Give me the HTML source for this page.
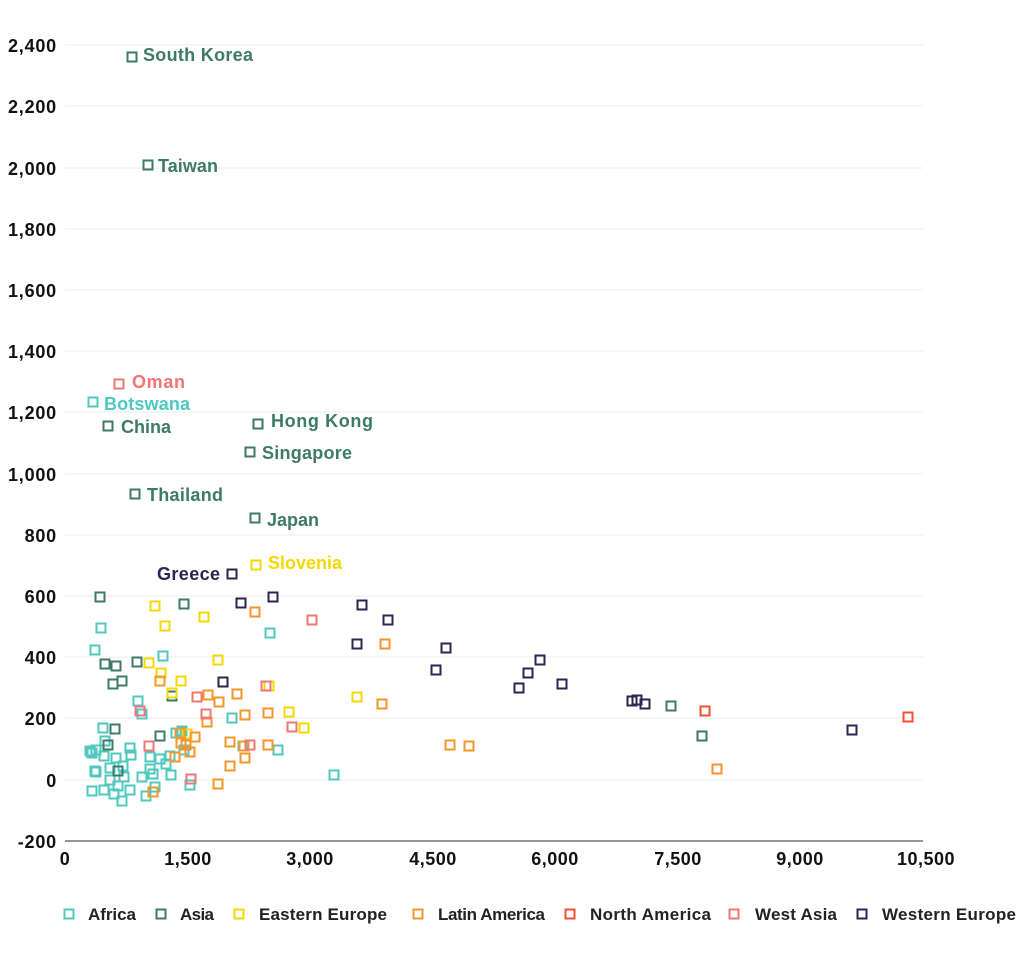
<!DOCTYPE html><html><head><meta charset="utf-8"><style>body{margin:0;background:#fff}svg{display:block}text{font-family:"Liberation Sans",sans-serif}</style></head><body>
<svg width="1024" height="953" xmlns="http://www.w3.org/2000/svg">
<g stroke="#ececec" stroke-width="1">
<line x1="65" x2="923" y1="45" y2="45"/><line x1="65" x2="923" y1="106" y2="106"/><line x1="65" x2="923" y1="168" y2="168"/><line x1="65" x2="923" y1="229" y2="229"/><line x1="65" x2="923" y1="290" y2="290"/><line x1="65" x2="923" y1="351" y2="351"/><line x1="65" x2="923" y1="412" y2="412"/><line x1="65" x2="923" y1="474" y2="474"/><line x1="65" x2="923" y1="535" y2="535"/><line x1="65" x2="923" y1="596" y2="596"/><line x1="65" x2="923" y1="657" y2="657"/><line x1="65" x2="923" y1="718" y2="718"/><line x1="65" x2="923" y1="780" y2="780"/>
</g>
<line x1="65" x2="923" y1="841" y2="841" stroke="#555" stroke-width="1.3"/>
<g font-size="18" font-weight="bold" fill="#111" text-anchor="end" letter-spacing="0.8">
<text x="57" y="52">2,400</text><text x="57" y="113">2,200</text><text x="57" y="175">2,000</text><text x="57" y="236">1,800</text><text x="57" y="297">1,600</text><text x="57" y="358">1,400</text><text x="57" y="419">1,200</text><text x="57" y="481">1,000</text><text x="57" y="542">800</text><text x="57" y="603">600</text><text x="57" y="664">400</text><text x="57" y="725">200</text><text x="57" y="787">0</text><text x="57" y="848">-200</text>
</g>
<g font-size="18" font-weight="bold" fill="#111" text-anchor="middle" letter-spacing="0.5">
<text x="65" y="865">0</text><text x="188" y="865">1,500</text><text x="310" y="865">3,000</text><text x="433" y="865">4,500</text><text x="555" y="865">6,000</text><text x="678" y="865">7,500</text><text x="800" y="865">9,000</text><text x="926" y="865">10,500</text>
</g>
<g fill="none" stroke-width="2">
<g stroke="#4fc9c0">
<rect x="88.5" y="397.5" width="9" height="9"/><rect x="96.5" y="623.5" width="9" height="9"/><rect x="90.5" y="645.5" width="9" height="9"/><rect x="158.5" y="651.5" width="9" height="9"/><rect x="265.5" y="628.5" width="9" height="9"/><rect x="133.5" y="696.5" width="9" height="9"/><rect x="137.5" y="709.5" width="9" height="9"/><rect x="125.5" y="743.5" width="9" height="9"/><rect x="227.5" y="713.5" width="9" height="9"/><rect x="171.5" y="728.5" width="9" height="9"/><rect x="177.5" y="726.5" width="9" height="9"/><rect x="98.5" y="723.5" width="9" height="9"/><rect x="100.5" y="736.5" width="9" height="9"/><rect x="91.5" y="745.5" width="9" height="9"/><rect x="87.5" y="748.5" width="9" height="9"/><rect x="99.5" y="751.5" width="9" height="9"/><rect x="111.5" y="753.5" width="9" height="9"/><rect x="85.5" y="746.5" width="9" height="9"/><rect x="105.5" y="763.5" width="9" height="9"/><rect x="118.5" y="761.5" width="9" height="9"/><rect x="119.5" y="772.5" width="9" height="9"/><rect x="126.5" y="750.5" width="9" height="9"/><rect x="145.5" y="752.5" width="9" height="9"/><rect x="155.5" y="754.5" width="9" height="9"/><rect x="165.5" y="751.5" width="9" height="9"/><rect x="179.5" y="745.5" width="9" height="9"/><rect x="161.5" y="759.5" width="9" height="9"/><rect x="145.5" y="764.5" width="9" height="9"/><rect x="150.5" y="782.5" width="9" height="9"/><rect x="137.5" y="772.5" width="9" height="9"/><rect x="105.5" y="775.5" width="9" height="9"/><rect x="113.5" y="781.5" width="9" height="9"/><rect x="99.5" y="785.5" width="9" height="9"/><rect x="91.5" y="767.5" width="9" height="9"/><rect x="117.5" y="796.5" width="9" height="9"/><rect x="125.5" y="785.5" width="9" height="9"/><rect x="109.5" y="789.5" width="9" height="9"/><rect x="148.5" y="769.5" width="9" height="9"/><rect x="141.5" y="791.5" width="9" height="9"/><rect x="185.5" y="780.5" width="9" height="9"/><rect x="166.5" y="770.5" width="9" height="9"/><rect x="238.5" y="741.5" width="9" height="9"/><rect x="273.5" y="745.5" width="9" height="9"/><rect x="329.5" y="770.5" width="9" height="9"/><rect x="87.5" y="786.5" width="9" height="9"/><rect x="90.5" y="766.5" width="9" height="9"/>
</g>
<g stroke="#3d7a68">
<rect x="127.5" y="52.5" width="9" height="9"/><rect x="143.5" y="160.5" width="9" height="9"/><rect x="103.5" y="421.5" width="9" height="9"/><rect x="253.5" y="419.5" width="9" height="9"/><rect x="245.5" y="447.5" width="9" height="9"/><rect x="130.5" y="489.5" width="9" height="9"/><rect x="250.5" y="513.5" width="9" height="9"/><rect x="95.5" y="592.5" width="9" height="9"/><rect x="179.5" y="599.5" width="9" height="9"/><rect x="100.5" y="659.5" width="9" height="9"/><rect x="111.5" y="661.5" width="9" height="9"/><rect x="132.5" y="657.5" width="9" height="9"/><rect x="108.5" y="679.5" width="9" height="9"/><rect x="117.5" y="676.5" width="9" height="9"/><rect x="167.5" y="691.5" width="9" height="9"/><rect x="155.5" y="731.5" width="9" height="9"/><rect x="110.5" y="724.5" width="9" height="9"/><rect x="103.5" y="740.5" width="9" height="9"/><rect x="113.5" y="766.5" width="9" height="9"/><rect x="666.5" y="701.5" width="9" height="9"/><rect x="697.5" y="731.5" width="9" height="9"/>
</g>
<g stroke="#f5d800">
<rect x="251.5" y="560.5" width="9" height="9"/><rect x="150.5" y="601.5" width="9" height="9"/><rect x="199.5" y="612.5" width="9" height="9"/><rect x="160.5" y="621.5" width="9" height="9"/><rect x="213.5" y="655.5" width="9" height="9"/><rect x="144.5" y="658.5" width="9" height="9"/><rect x="156.5" y="668.5" width="9" height="9"/><rect x="176.5" y="676.5" width="9" height="9"/><rect x="167.5" y="688.5" width="9" height="9"/><rect x="264.5" y="681.5" width="9" height="9"/><rect x="284.5" y="707.5" width="9" height="9"/><rect x="299.5" y="723.5" width="9" height="9"/><rect x="352.5" y="692.5" width="9" height="9"/><rect x="182.5" y="729.5" width="9" height="9"/>
</g>
<g stroke="#f7962a">
<rect x="250.5" y="607.5" width="9" height="9"/><rect x="380.5" y="639.5" width="9" height="9"/><rect x="155.5" y="676.5" width="9" height="9"/><rect x="203.5" y="690.5" width="9" height="9"/><rect x="232.5" y="689.5" width="9" height="9"/><rect x="214.5" y="697.5" width="9" height="9"/><rect x="202.5" y="717.5" width="9" height="9"/><rect x="181.5" y="740.5" width="9" height="9"/><rect x="175.5" y="728.5" width="9" height="9"/><rect x="240.5" y="710.5" width="9" height="9"/><rect x="263.5" y="708.5" width="9" height="9"/><rect x="176.5" y="738.5" width="9" height="9"/><rect x="190.5" y="732.5" width="9" height="9"/><rect x="239.5" y="741.5" width="9" height="9"/><rect x="225.5" y="737.5" width="9" height="9"/><rect x="170.5" y="752.5" width="9" height="9"/><rect x="185.5" y="747.5" width="9" height="9"/><rect x="263.5" y="740.5" width="9" height="9"/><rect x="240.5" y="753.5" width="9" height="9"/><rect x="225.5" y="761.5" width="9" height="9"/><rect x="213.5" y="779.5" width="9" height="9"/><rect x="377.5" y="699.5" width="9" height="9"/><rect x="445.5" y="740.5" width="9" height="9"/><rect x="464.5" y="741.5" width="9" height="9"/><rect x="712.5" y="764.5" width="9" height="9"/><rect x="148.5" y="787.5" width="9" height="9"/>
</g>
<g stroke="#f0502f">
<rect x="700.5" y="706.5" width="9" height="9"/><rect x="903.5" y="712.5" width="9" height="9"/>
</g>
<g stroke="#f07575">
<rect x="114.5" y="379.5" width="9" height="9"/><rect x="307.5" y="615.5" width="9" height="9"/><rect x="135.5" y="706.5" width="9" height="9"/><rect x="192.5" y="692.5" width="9" height="9"/><rect x="201.5" y="709.5" width="9" height="9"/><rect x="261.5" y="681.5" width="9" height="9"/><rect x="287.5" y="722.5" width="9" height="9"/><rect x="245.5" y="740.5" width="9" height="9"/><rect x="144.5" y="741.5" width="9" height="9"/><rect x="186.5" y="774.5" width="9" height="9"/>
</g>
<g stroke="#2a2650">
<rect x="227.5" y="569.5" width="9" height="9"/><rect x="268.5" y="592.5" width="9" height="9"/><rect x="236.5" y="598.5" width="9" height="9"/><rect x="357.5" y="600.5" width="9" height="9"/><rect x="383.5" y="615.5" width="9" height="9"/><rect x="352.5" y="639.5" width="9" height="9"/><rect x="441.5" y="643.5" width="9" height="9"/><rect x="535.5" y="655.5" width="9" height="9"/><rect x="431.5" y="665.5" width="9" height="9"/><rect x="523.5" y="668.5" width="9" height="9"/><rect x="514.5" y="683.5" width="9" height="9"/><rect x="557.5" y="679.5" width="9" height="9"/><rect x="218.5" y="677.5" width="9" height="9"/><rect x="627.5" y="696.5" width="9" height="9"/><rect x="632.5" y="695.5" width="9" height="9"/><rect x="640.5" y="699.5" width="9" height="9"/><rect x="847.5" y="725.5" width="9" height="9"/>
</g>
</g>
<g font-size="18" font-weight="bold">
<text x="143" y="61" fill="#3d7a68" textLength="110">South Korea</text>
<text x="158" y="172" fill="#3d7a68" textLength="60">Taiwan</text>
<text x="132" y="388" fill="#f07575" textLength="53">Oman</text>
<text x="104" y="410" fill="#4fc9c0" textLength="86">Botswana</text>
<text x="121" y="433" fill="#3d7a68" textLength="50">China</text>
<text x="271" y="427" fill="#3d7a68" textLength="102">Hong Kong</text>
<text x="262" y="459" fill="#3d7a68" textLength="90">Singapore</text>
<text x="147" y="501" fill="#3d7a68" textLength="76">Thailand</text>
<text x="267" y="526" fill="#3d7a68" textLength="52">Japan</text>
<text x="268" y="569" fill="#f5d800" textLength="74">Slovenia</text>
<text x="157" y="580" fill="#2a2650" textLength="63">Greece</text>
</g>
<g fill="none" stroke-width="2">
<rect x="64.5" y="909.5" width="9" height="9" stroke="#4fc9c0"/>
<rect x="156.5" y="909.5" width="9" height="9" stroke="#3d7a68"/>
<rect x="234.5" y="909.5" width="9" height="9" stroke="#f5d800"/>
<rect x="413.5" y="909.5" width="9" height="9" stroke="#f7962a"/>
<rect x="565.5" y="909.5" width="9" height="9" stroke="#f0502f"/>
<rect x="729.5" y="909.5" width="9" height="9" stroke="#f07575"/>
<rect x="857.5" y="909.5" width="9" height="9" stroke="#2a2650"/>
</g>
<g font-size="17" font-weight="bold" fill="#222">
<text x="88" y="920" textLength="48">Africa</text><text x="180" y="920" textLength="34">Asia</text><text x="259" y="920" textLength="128">Eastern Europe</text><text x="438" y="920" textLength="107">Latin America</text><text x="590" y="920" textLength="121">North America</text><text x="755" y="920" textLength="82">West Asia</text><text x="882" y="920" textLength="134">Western Europe</text>
</g>
</svg></body></html>
